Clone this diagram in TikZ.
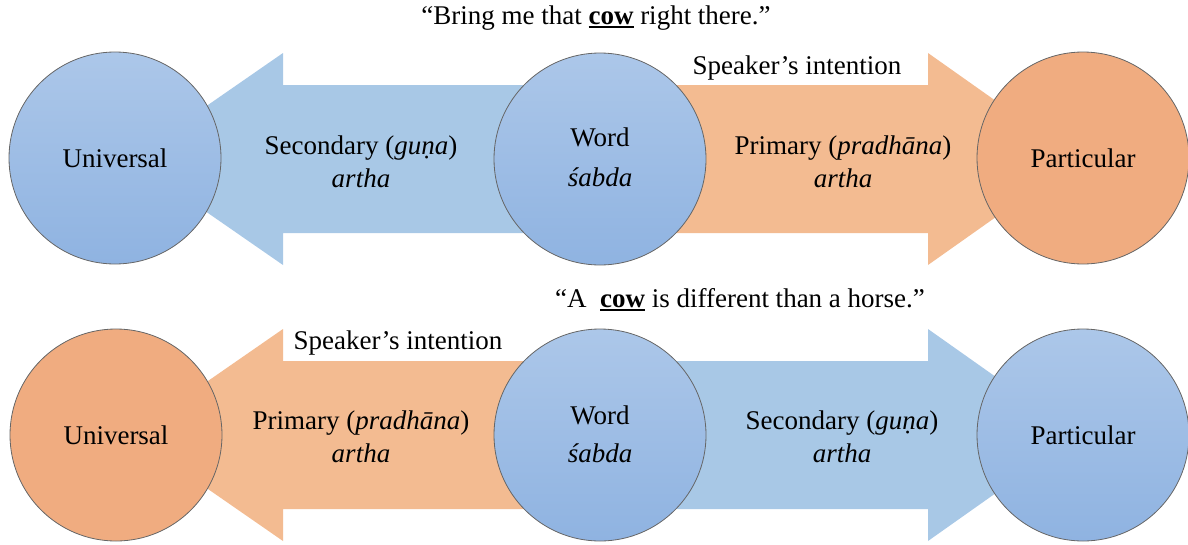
\documentclass[tikz,border=0pt]{standalone}
\usepackage{fontspec}
\setmainfont{Liberation Serif}
\definecolor{bluetop}{RGB}{172,199,233}
\definecolor{bluebot}{RGB}{143,179,225}
\definecolor{bluearr}{RGB}{168,200,230}
\definecolor{orcirc}{RGB}{240,172,128}
\definecolor{orarr}{RGB}{243,187,145}
\newcommand{\lblfont}{\fontsize{27}{33}\selectfont}
% bold word with a heavy rule underneath
\newcommand{\keyword}[1]{\leavevmode\vtop{\hbox{\textbf{#1}}\kern1.2pt\hrule height 1.7pt}}
\begin{document}
\begin{tikzpicture}[x=1pt,y=-1pt,
  circbase/.style={circle, draw=black!60, line width=0.8pt, minimum size=212pt,
    inner sep=0pt, align=center, font=\lblfont},
  bluecirc/.style={circbase, top color=bluetop, bottom color=bluebot},
  orangecirc/.style={circbase, fill=orcirc},
  bluearrow/.style={fill=bluearr},
  orangearrow/.style={fill=orarr},
  lbl/.style={align=center, font=\lblfont, inner sep=0pt},
]
\useasboundingbox (0,0) rectangle (1188,544);

% ---- top row: "Bring me that cow right there."
\fill[bluearrow] (130,159) -- (283,53) -- (283,85) -- (600,85) -- (600,233)
  -- (283,233) -- (283,265) -- cycle;
\fill[orangearrow] (600,85) -- (928,85) -- (928,53) -- (1078,159) -- (928,265)
  -- (928,233) -- (600,233) -- cycle;

\node[bluecirc] (univA) at (115,158) {Universal};
\node[bluecirc] (wordA) at (600,159) {};
\node[lbl] (wordAtxt) at (600,157) {Word\\[7pt]\textit{śabda}};
\node[orangecirc] (partA) at (1083,158) {Particular};

\node[lbl] (quoteA) at (596,18) {“Bring me that \keyword{cow} right there.”};
\node[lbl] (intentA) at (797,68) {Speaker’s intention};
\node[lbl] (secA) at (361,162) {Secondary (\textit{guṇa})\\\textit{artha}};
\node[lbl] (primA) at (843,162) {Primary (\textit{pradhāna})\\\textit{artha}};

% ---- bottom row: "A cow is different than a horse."
\fill[orangearrow] (130,435) -- (283,329) -- (283,361) -- (600,361) -- (600,509)
  -- (283,509) -- (283,541) -- cycle;
\fill[bluearrow] (600,361) -- (928,361) -- (928,329) -- (1078,435) -- (928,541)
  -- (928,509) -- (600,509) -- cycle;

\node[orangecirc] (univB) at (116,435) {Universal};
\node[bluecirc] (wordB) at (600,435) {};
\node[lbl] (wordBtxt) at (600,434) {Word\\[5pt]\textit{śabda}};
\node[bluecirc] (partB) at (1083,435) {Particular};

\node[lbl] (quoteB) at (740,300) {“A\ \ \keyword{cow} is different than a horse.”};
\node[lbl] (intentB) at (398,343) {Speaker’s intention};
\node[lbl] (primB) at (361,437) {Primary (\textit{pradhāna})\\\textit{artha}};
\node[lbl] (secB) at (842,437) {Secondary (\textit{guṇa})\\\textit{artha}};
\end{tikzpicture}
\end{document}
